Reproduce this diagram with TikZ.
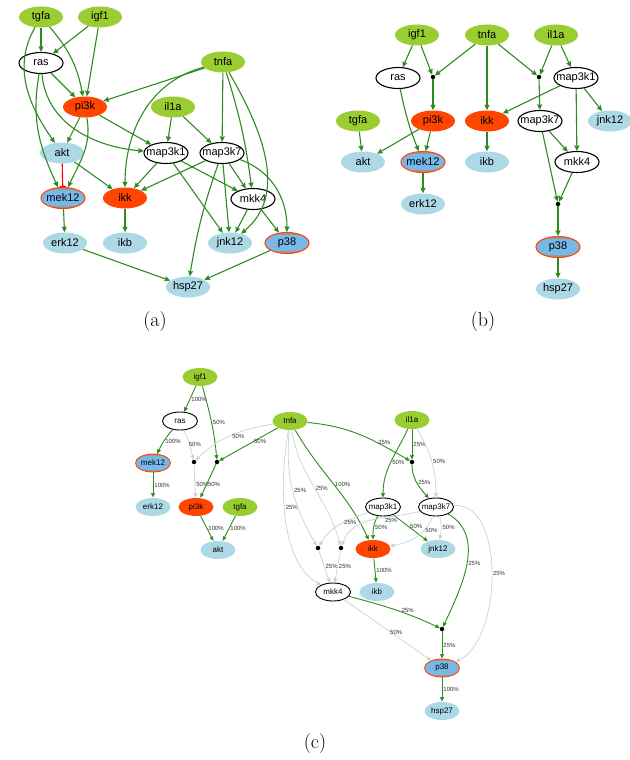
\documentclass[tikz,border=0pt]{standalone}
\usepackage{fontspec}
\newfontfamily\graphfont{Liberation Sans}
\usetikzlibrary{shapes.geometric,arrows.meta}
\definecolor{lime}{HTML}{9ACD32}
\definecolor{orangered}{HTML}{FF4500}
\definecolor{paleblue}{HTML}{ADD8E6}
\definecolor{measblue}{HTML}{78B8E8}
\definecolor{fgreen}{HTML}{2E8B22}
\definecolor{offgray}{HTML}{C8D2D2}
\begin{document}
\begin{tikzpicture}[x=1pt,y=1pt,
    gnode/.style={
      % The shape:
      ellipse,minimum width=44,minimum height=21,inner xsep=-5pt,inner ysep=0pt,
      % The rest
      font=\graphfont\fontsize{11}{12}\selectfont},
    stim/.style={gnode,fill=lime},
    inhib/.style={gnode,fill=orangered},
    plain/.style={gnode,draw=black,line width=1.1pt,fill=white},
    readout/.style={gnode,fill=paleblue},
    meas/.style={gnode,fill=measblue,draw=orangered,line width=1.1pt,
      path picture={
        \fill[gray!80] ([yshift=-2.2pt]path picture bounding box.north west) rectangle (path picture bounding box.north east);
        \fill[gray!80] ([yshift=2.2pt]path picture bounding box.south west) rectangle (path picture bounding box.south east);}},
    sm/.style={minimum width=35,minimum height=18,line width=0.9pt,
      font=\graphfont\fontsize{8}{9}\selectfont},
    dot/.style={circle,fill=black,inner sep=0pt,minimum size=4.5pt},
    act/.style={-{Stealth[length=5.5pt,width=5pt,inset=0.5pt]},fgreen,line width=1.1pt},
    inh/.style={-{Bar[width=6pt]},red,line width=1.1pt},
    onedge/.style={-{Stealth[length=4.5pt,width=4pt,inset=0.4pt]},fgreen,line width=0.9pt},
    offedge/.style={-{Stealth[length=4.5pt,width=4pt,inset=0.4pt]},offgray,line width=0.7pt},
    lab/.style={font=\graphfont\fontsize{6}{7}\selectfont,inner sep=1pt,text=black!80},
    caption/.style={font=\fontsize{20}{24}\selectfont}]
    \useasboundingbox (0,0) rectangle (629,-760);

    % (a) the prior knowledge network
    \node (atgfa)   [stim]    at (41,-17)  {tgfa};
    \node (aigf1)   [stim]    at (100,-17) {igf1};
    \node (aras)    [plain]   at (41,-63)  {ras};
    \node (atnfa)   [stim]    at (223,-62) {tnfa};
    \node (api3k)   [inhib]   at (85,-107) {pi3k};
    \node (ail1a)   [stim]    at (173,-107) {il1a};
    \node (aakt)    [readout] at (62,-153) {akt};
    \node (amap3k1) [plain]   at (166,-153) {map3k1};
    \node (amap3k7) [plain]   at (222,-153) {map3k7};
    \node (amek12)  [meas]    at (63,-198) {mek12};
    \node (aikk)    [inhib]   at (125,-198) {ikk};
    \node (amkk4)   [plain]   at (253,-199) {mkk4};
    \node (aerk12)  [readout] at (65,-243) {erk12};
    \node (aikb)    [readout] at (125,-243) {ikb};
    \node (ajnk12)  [readout] at (230,-243) {jnk12};
    \node (ap38)    [meas]    at (287,-243) {p38};
    \node (ahsp27)  [readout] at (188,-287) {hsp27};
    \node (acap)    [caption] at (155,-322) {(a)};
    \draw[act] (atgfa) -- (aras);
    \draw[act] (atgfa) to[bend left=15] (api3k);
    \draw[act] (atgfa) to[out=-120,in=125] (aakt);
    \draw[act] (aigf1) -- (aras);
    \draw[act] (aigf1) -- (api3k);
    \draw[act] (aras) -- (api3k);
    \draw[act] (aras) to[out=-100,in=115] (amek12);
    \draw[act] (aras) to[out=-85,in=175] (amap3k1);
    \draw[act] (atnfa) -- (api3k);
    \draw[act] (atnfa) to[out=195,in=90] (aikk);
    \draw[act] (atnfa) -- (amap3k7);
    \draw[act] (atnfa) to[bend left=5] (amkk4);
    \draw[act] (atnfa) to[out=-60,in=40] (ajnk12);
    \draw[act] (api3k) -- (aakt);
    \draw[act] (api3k) to[out=-80,in=65] (amek12);
    \draw[act] (api3k) -- (amap3k1);
    \draw[act] (ail1a) -- (amap3k1);
    \draw[act] (ail1a) -- (amap3k7);
    \draw[inh] (aakt) -- (amek12);
    \draw[act] (aakt) -- (aikk);
    \draw[act] (amap3k1) -- (aikk);
    \draw[act] (amap3k1) -- (ajnk12);
    \draw[act] (amap3k1) -- (amkk4);
    \draw[act] (amap3k7) -- (aikk);
    \draw[act] (amap3k7) to[bend right=5] (ahsp27);
    \draw[act] (amap3k7) -- (ajnk12);
    \draw[act] (amap3k7) -- (amkk4);
    \draw[act] (amap3k7) to[out=-20,in=90] (ap38);
    \draw[act] (amek12) -- (aerk12);
    \draw[act] (aikk) -- (aikb);
    \draw[act] (amkk4) -- (ajnk12);
    \draw[act] (amkk4) -- (ap38);
    \draw[act] (aerk12) -- (ahsp27);
    \draw[act] (ap38) -- (ahsp27);

    % (b) the optimised model
    \node (bigf1)   [stim]    at (417,-35)  {igf1};
    \node (btnfa)   [stim]    at (487,-35)  {tnfa};
    \node (bil1a)   [stim]    at (556,-35)  {il1a};
    \node (bras)    [plain]   at (398,-78)  {ras};
    \node (bdot1)   [dot]     at (433,-77)  {};
    \node (bdot2)   [dot]     at (539,-77)  {};
    \node (bmap3k1) [plain]   at (576,-78)  {map3k1};
    \node (btgfa)   [stim]    at (358,-121) {tgfa};
    \node (bpi3k)   [inhib]   at (433,-121) {pi3k};
    \node (bikk)    [inhib]   at (487,-121) {ikk};
    \node (bmap3k7) [plain]   at (540,-121) {map3k7};
    \node (bjnk12)  [readout] at (610,-121) {jnk12};
    \node (bakt)    [readout] at (363,-162) {akt};
    \node (bmek12)  [meas]    at (423,-162) {mek12};
    \node (bikb)    [readout] at (487,-162) {ikb};
    \node (bmkk4)   [plain]   at (577,-162) {mkk4};
    \node (berk12)  [readout] at (423,-204) {erk12};
    \node (bdot3)   [dot]     at (558,-204) {};
    \node (bp38)    [meas]    at (558,-247) {p38};
    \node (bhsp27)  [readout] at (558,-289) {hsp27};
    \node (bcap)    [caption] at (483,-322) {(b)};
    \draw[act] (bigf1) -- (bras);
    \draw[act] (bigf1) -- (bdot1);
    \draw[act] (btnfa) -- (bdot1);
    \draw[act] (bdot1) -- (bpi3k);
    \draw[act] (btnfa) -- (bikk);
    \draw[act] (btnfa) -- (bdot2);
    \draw[act] (bil1a) -- (bdot2);
    \draw[act] (bil1a) -- (bmap3k1);
    \draw[act] (bdot2) -- (bmap3k7);
    \draw[act] (bras) to[bend right=5] (bmek12);
    \draw[act] (bmap3k1) -- (bikk);
    \draw[act] (bmap3k1) -- (bjnk12);
    \draw[act] (bmap3k1) -- (bmkk4);
    \draw[act] (btgfa) -- (bakt);
    \draw[act] (bpi3k) -- (bakt);
    \draw[act] (bpi3k) -- (bmek12);
    \draw[act] (bikk) -- (bikb);
    \draw[act] (bmap3k7) -- (bmkk4);
    \draw[act] (bmap3k7) -- (bdot3);
    \draw[act] (bmkk4) -- (bdot3);
    \draw[act] (bmek12) -- (berk12);
    \draw[act] (bdot3) -- (bp38);
    \draw[act] (bp38) -- (bhsp27);

    % (c) the family of models with edge frequencies
    \node (cigf1)   [stim,sm]    at (200,-377) {igf1};
    \node (cras)    [plain,sm]   at (180,-421) {ras};
    \node (ctnfa)   [stim,sm]    at (290,-421) {tnfa};
    \node (cil1a)   [stim,sm]    at (412,-420) {il1a};
    \node (cmek12)  [meas,sm]    at (153,-463) {mek12};
    \node (cdot1)   [dot]        at (194,-462) {};
    \node (cdot2)   [dot]        at (217,-462) {};
    \node (cdot3)   [dot]        at (412,-462) {};
    \node (cerk12)  [readout,sm] at (153,-507) {erk12};
    \node (cpi3k)   [inhib,sm]   at (196,-507) {pi3k};
    \node (ctgfa)   [stim,sm]    at (240,-507) {tgfa};
    \node (cmap3k1) [plain,sm]   at (383,-507) {map3k1};
    \node (cmap3k7) [plain,sm]   at (436,-507) {map3k7};
    \node (cakt)    [readout,sm] at (218,-550) {akt};
    \node (cdot4)   [dot]        at (318,-548) {};
    \node (cdot5)   [dot]        at (341,-548) {};
    \node (cikk)    [inhib,sm]   at (373,-549) {ikk};
    \node (cjnk12)  [readout,sm] at (438,-549) {jnk12};
    \node (cmkk4)   [plain,sm]   at (333,-592) {mkk4};
    \node (cikb)    [readout,sm] at (377,-592) {ikb};
    \node (cdot6)   [dot]        at (442,-629) {};
    \node (cp38)    [meas,sm]    at (442,-668) {p38};
    \node (chsp27)  [readout,sm] at (442,-711) {hsp27};
    \node (ccap)    [caption]    at (315,-744) {(c)};
    \draw[onedge] (cigf1) -- node[lab,right] {100\%} (cras);
    \draw[onedge] (cigf1) to[out=-75,in=95] node[lab,right] {50\%} (cdot2);
    \draw[onedge] (cras) to[bend right=8] node[lab,right] {100\%} (cmek12);
    \draw[offedge] (cras) to[bend left=5] node[lab,right,xshift=-2pt] {50\%} (cdot1);
    \draw[offedge] (ctnfa) to[out=190,in=45] node[lab,below,pos=.4] {50\%} (cdot1);
    \draw[onedge] (ctnfa) -- node[lab,below,pos=.3] {50\%} (cdot2);
    \draw[offedge] (cdot1) -- node[lab,right,pos=.6] {50\%} (cpi3k);
    \draw[onedge] (cdot2) -- node[lab,right,pos=.6] {50\%} (cpi3k);
    \draw[onedge] (cmek12) -- node[lab,right] {100\%} (cerk12);
    \draw[onedge] (cpi3k) -- node[lab,right] {100\%} (cakt);
    \draw[onedge] (ctgfa) -- node[lab,right] {100\%} (cakt);
    \draw[offedge] (ctnfa) to[out=-100,in=150,looseness=.8] node[lab,right,pos=.45] {25\%} (cmkk4);
    \draw[offedge] (ctnfa) to[out=-95,in=120] node[lab,right] {25\%} (cdot4);
    \draw[offedge] (ctnfa) to[out=-80,in=105] node[lab,right] {25\%} (cdot5);
    \draw[onedge] (ctnfa) to[out=-60,in=115] node[lab,right] {100\%} (cikk);
    \draw[onedge] (ctnfa) to[out=-5,in=150] node[lab,above,pos=.75] {25\%} (cdot3);
    \draw[onedge] (cil1a) to[out=-115,in=90] node[lab,right] {50\%} (cmap3k1);
    \draw[onedge] (cil1a) -- node[lab,right] {25\%} (cdot3);
    \draw[offedge] (cil1a) to[out=-60,in=90] node[lab,right] {50\%} (cmap3k7);
    \draw[onedge] (cdot3) to[out=-90,in=130] node[lab,right] {25\%} (cmap3k7);
    \draw[offedge] (cmap3k1) to[out=200,in=60] node[lab,below,pos=.3] {25\%} (cdot4);
    \draw[onedge] (cmap3k1) to[out=-120,in=90] node[lab,right] {50\%} (cikk);
    \draw[onedge] (cmap3k1) -- node[lab,right,pos=.45] {50\%} (cjnk12);
    \draw[offedge] (cmap3k7) to[out=195,in=70] node[lab,below,pos=.3] {25\%} (cdot5);
    \draw[offedge] (cmap3k7) to[out=-110,in=10] node[lab,right,pos=.3] {50\%} (cikk);
    \draw[offedge] (cmap3k7) to[out=-70,in=80] node[lab,right] {50\%} (cjnk12);
    \draw[onedge] (cmap3k7) to[out=-30,in=65] node[lab,right] {25\%} (cdot6);
    \draw[offedge] (cmap3k7) to[out=5,in=25,looseness=.85] node[lab,right] {25\%} (cp38);
    \draw[offedge] (cdot4) -- node[lab,right] {25\%} (cmkk4);
    \draw[offedge] (cdot5) -- node[lab,right] {25\%} (cmkk4);
    \draw[onedge] (cikk) -- node[lab,right] {100\%} (cikb);
    \draw[onedge] (cmkk4) to[out=-15,in=155] node[lab,above,pos=.65] {25\%} (cdot6);
    \draw[offedge] (cmkk4) -- node[lab,above,pos=.6] {50\%} (cp38);
    \draw[onedge] (cdot6) -- node[lab,right] {25\%} (cp38);
    \draw[onedge] (cp38) -- node[lab,right] {100\%} (chsp27);
\end{tikzpicture}
\end{document}
